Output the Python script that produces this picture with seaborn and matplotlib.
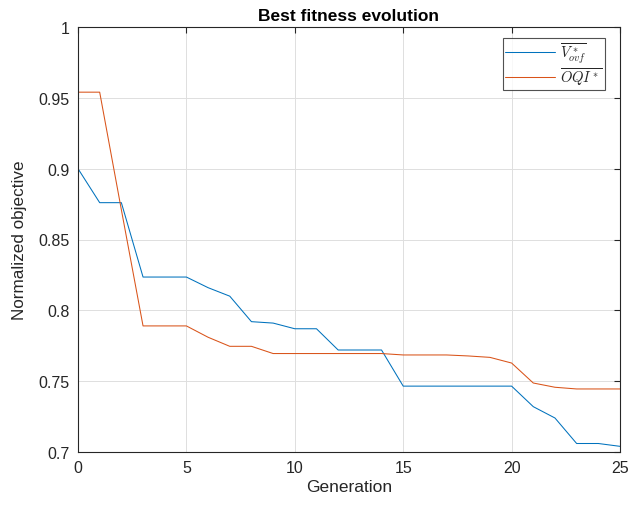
import matplotlib
matplotlib.use("Agg")
import matplotlib.pyplot as plt
import seaborn as sns
import pandas as pd
import numpy as np

generations = list(range(26))
vovf = [0.900, 0.876, 0.876, 0.8235, 0.8235, 0.8235, 0.816, 0.810, 0.792, 0.791,
        0.787, 0.787, 0.772, 0.772, 0.772, 0.7465, 0.7465, 0.7465, 0.7465, 0.7465,
        0.7465, 0.732, 0.724, 0.706, 0.706, 0.704]
oqi = [0.954, 0.954, 0.871, 0.789, 0.789, 0.789, 0.781, 0.7746, 0.7746, 0.7695,
       0.7695, 0.7695, 0.7695, 0.7695, 0.7695, 0.7685, 0.7685, 0.7685, 0.7678, 0.7668,
       0.7628, 0.7487, 0.7457, 0.7445, 0.7445, 0.7445]
series_names = [r'$\overline{V^*_{ovf}}$', r'$\overline{OQI^*}$']
x_ticks = [0, 5, 10, 15, 20, 25]
y_ticks = [0.7, 0.75, 0.8, 0.85, 0.9, 0.95, 1.0]
y_tick_labels = ["0.7", "0.75", "0.8", "0.85", "0.9", "0.95", "1"]

df = pd.DataFrame({
    "Generation": generations * 2,
    "value": vovf + oqi,
    "series": [series_names[0]] * len(generations) + [series_names[1]] * len(generations),
})

sns.set_style("white")
plt.rcParams['font.family'] = ['Liberation Sans', 'DejaVu Sans']
plt.rcParams['mathtext.fontset'] = 'cm'

fig = plt.figure(figsize=(6.41, 5.06), dpi=100)
ax = fig.add_axes([78 / 641, 53 / 506, (620 - 78) / 641, (453 - 28) / 506])

sns.lineplot(data=df, x="Generation", y="value", hue="series",
             palette=["#0072BD", "#D95319"], linewidth=0.75, ax=ax,
             legend=True)

ax.set_xlim(0, 25)
ax.set_ylim(0.7, 1.0)
ax.set_xticks(x_ticks)
ax.set_xticklabels([str(t) for t in x_ticks])
ax.set_yticks(y_ticks)
ax.set_yticklabels(y_tick_labels)
ax.grid(True, color="#dedede", linewidth=0.7)
ax.set_axisbelow(True)
for s in ax.spines.values():
    s.set_color("#262626")
    s.set_linewidth(0.8)
    s.set_visible(True)
ax.tick_params(direction="in", length=4, width=0.8, color="#262626",
               labelcolor="#262626", labelsize=11.5, top=True, right=True,
               pad=6)
ax.set_xlabel("Generation", fontsize=12.5, color="#262626", labelpad=3)
ax.set_ylabel("Normalized objective", fontsize=12.3, color="#262626", labelpad=8)
ax.set_title("Best fitness evolution", fontsize=12.5, fontweight="bold",
             color="black", pad=5)

leg = ax.legend(loc="upper right", bbox_to_anchor=(0.98, 0.985), fontsize=10.5,
                frameon=True, fancybox=False, edgecolor="#262626",
                handlelength=3.4, borderpad=0.15, labelspacing=0.05,
                handletextpad=0.35, borderaxespad=0.3)
leg.get_frame().set_linewidth(0.8)
leg.set_title(None)

fig.savefig("out.png", dpi=100)
